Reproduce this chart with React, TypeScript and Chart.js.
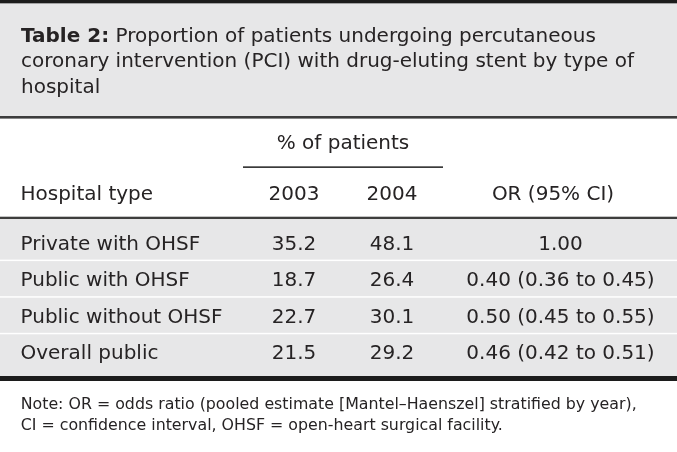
import React, { useEffect, useRef } from "react";
import { Chart, registerables } from "chart.js";

Chart.register(...registerables);

const titleBold = "Table 2:";
const titleLines = [
  " Proportion of patients undergoing percutaneous",
  "coronary intervention (PCI) with drug-eluting stent by type of",
  "hospital",
];
const groupHeader = "% of patients";
const columnHeaders = ["Hospital type", "2003", "2004", "OR (95% CI)"];
const hospitalTypes = ["Private with OHSF", "Public with OHSF", "Public without OHSF", "Overall public"];
const pct2003 = [35.2, 18.7, 22.7, 21.5];
const pct2004 = [48.1, 26.4, 30.1, 29.2];
const oddsRatio = [1.0, 0.4, 0.5, 0.46];
const ciLow: (number | null)[] = [null, 0.36, 0.45, 0.42];
const ciHigh: (number | null)[] = [null, 0.45, 0.55, 0.51];
const noteLines = [
  "Note: OR = odds ratio (pooled estimate [Mantel\u2013Haenszel] stratified by year),",
  "CI = confidence interval, OHSF = open-heart surgical facility.",
];

const FONT = '"DejaVu Sans", sans-serif';
const W = 677;
const H = 452;

const tablePlugin = {
  id: "tablePlugin",
  afterDraw(chart: any) {
    const ctx: CanvasRenderingContext2D = chart.ctx;
    const xs = chart.scales.x;
    const ys = chart.scales.y;
    const X = (v: number) => xs.getPixelForValue(v);
    const Y = (v: number) => ys.getPixelForValue(v);
    const rect = (x0: number, y0: number, x1: number, y1: number, c: string) => {
      ctx.fillStyle = c;
      ctx.fillRect(X(x0), Y(y0), X(x1) - X(x0), Y(y1) - Y(y0));
    };
    const bodyFont = `19.6px ${FONT}`;
    const titleFont = `19.8px ${FONT}`;
    const titleBoldFont = `bold 19.8px ${FONT}`;
    const noteFont = `16.4px ${FONT}`;
    const measure = (font: string, t: string) => {
      ctx.font = font;
      return ctx.measureText(t).width;
    };
    const sxTitle = 613 / measure(titleFont, titleLines[1]);
    const sxBody = 202 / measure(bodyFont, hospitalTypes[2]);
    const sxNote = 616 / measure(noteFont, noteLines[0]);
    const text = (t: string, x: number, y: number, font: string, sx: number, align: string, color = "#262324") => {
      ctx.save();
      ctx.font = font;
      const w = ctx.measureText(t).width * sx;
      const px = X(x);
      const left = align === "center" ? px - w / 2 : align === "right" ? px - w : px;
      ctx.translate(left, Y(y));
      ctx.scale(sx, 1);
      ctx.textAlign = "left";
      ctx.textBaseline = "alphabetic";
      ctx.fillStyle = color;
      ctx.fillText(t, 0, 0);
      ctx.restore();
      return w;
    };

    ctx.save();
    rect(0, 0, W, H, "#ffffff");
    rect(0, 0, W, 3.6, "#1c1c1c");
    rect(0, 3.6, W, 116, "#e7e7e8");
    rect(0, 116, W, 118.6, "#3d3d3d");
    rect(243, 166.3, 443, 168, "#3a3a3a");
    rect(0, 216.7, W, 219.2, "#3d3d3d");
    rect(0, 219.2, W, 376, "#e7e7e8");
    const seps = [259.6, 296.2, 332.8];
    seps.forEach((s) => rect(0, s, W, s + 1.5, "#ffffff"));
    rect(0, 376, W, 381, "#1c1c1c");

    const bw = text(titleBold, 21, 41.7, titleBoldFont, sxTitle, "left");
    text(titleLines[0], 21 + bw, 41.7, titleFont, sxTitle, "left");
    text(titleLines[1], 21, 67.2, titleFont, sxTitle, "left");
    text(titleLines[2], 21, 92.7, titleFont, sxTitle, "left");

    text(groupHeader, 343, 149, bodyFont, sxBody, "center");
    text(columnHeaders[0], 20.5, 200, bodyFont, sxBody, "left");
    text(columnHeaders[1], 294, 200, bodyFont, sxBody, "center");
    text(columnHeaders[2], 392, 200, bodyFont, sxBody, "center");
    text(columnHeaders[3], 553, 200, bodyFont, sxBody, "center");

    const baselines = [250, 286.3, 322.6, 359];
    hospitalTypes.forEach((h, i) => {
      const b = baselines[i];
      text(h, 20.5, b, bodyFont, sxBody, "left");
      text(pct2003[i].toFixed(1), 294, b, bodyFont, sxBody, "center");
      text(pct2004[i].toFixed(1), 392, b, bodyFont, sxBody, "center");
      const lo = ciLow[i];
      const hi = ciHigh[i];
      const orText =
        lo === null || hi === null
          ? oddsRatio[i].toFixed(2)
          : `${oddsRatio[i].toFixed(2)} (${lo.toFixed(2)} to ${hi.toFixed(2)})`;
      text(orText, 560.5, b, bodyFont, sxBody, "center");
    });

    text(noteLines[0], 20.7, 409.3, noteFont, sxNote, "left");
    text(noteLines[1], 20.7, 430, noteFont, sxNote, "left");
    ctx.restore();
  },
};

export default function App() {
  const ref = useRef<HTMLCanvasElement | null>(null);
  useEffect(() => {
    if (!ref.current) return;
    const chart = new Chart(ref.current, {
      type: "scatter",
      data: { datasets: [] },
      options: {
        animation: false,
        responsive: false,
        devicePixelRatio: 1,
        layout: { padding: 0 },
        plugins: { legend: { display: false }, tooltip: { enabled: false }, title: { display: false } },
        scales: {
          x: { type: "linear", min: 0, max: W, display: false },
          y: { type: "linear", min: 0, max: H, reverse: true, display: false },
        },
      },
      plugins: [tablePlugin],
    });
    return () => chart.destroy();
  }, []);
  return (
    <div style={{ position: "fixed", left: 0, top: 0, width: W, height: H, background: "#fff" }}>
      <canvas ref={ref} width={W} height={H} style={{ display: "block", width: W, height: H }} />
    </div>
  );
}
